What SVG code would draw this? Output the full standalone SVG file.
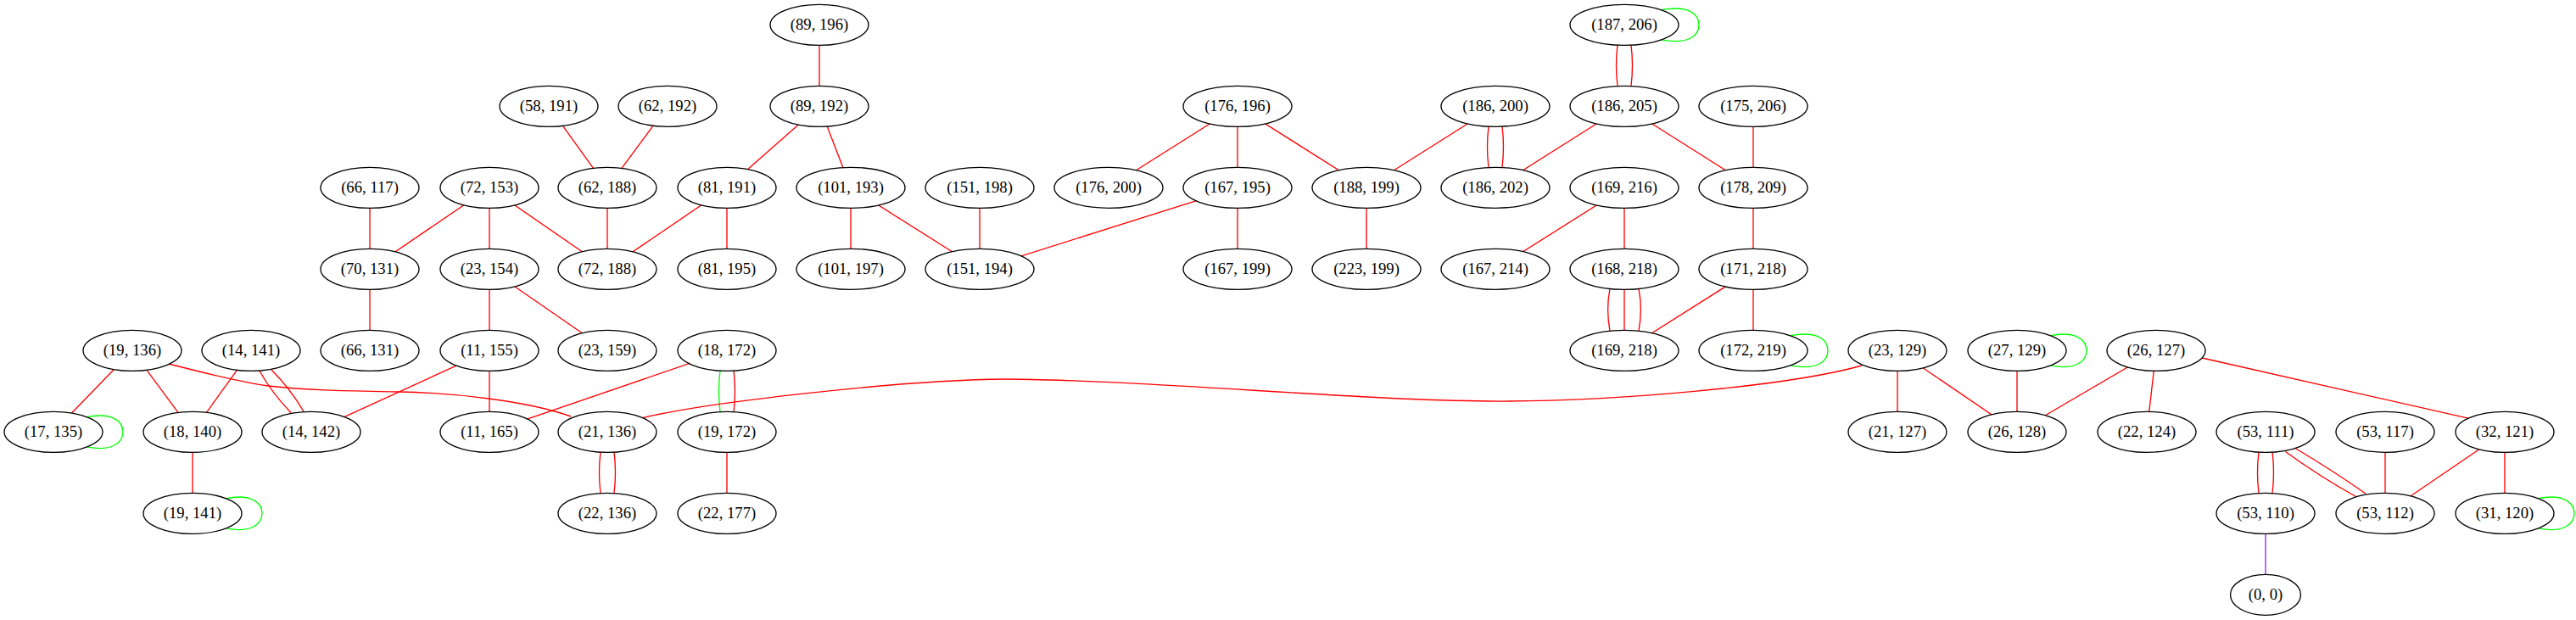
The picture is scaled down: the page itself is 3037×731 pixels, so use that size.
<svg xmlns="http://www.w3.org/2000/svg" width="3037" height="731" viewBox="0 0 3037 731">
<style>
.node ellipse{fill:#ffffff;stroke:#000000;stroke-width:1.33}
.node text{font-family:"Liberation Serif","Times New Roman",serif;font-size:18.67px;text-anchor:middle;fill:#000000}
#edges line,#edges path{fill:none;stroke:#ff0000;stroke-width:1.33}
#edges .g{stroke:#00ff00}
#edges .p{stroke:#a020f0}
</style>
<rect width="3037" height="731" fill="#ffffff"/>
<g id="edges">
<line x1="966" y1="29.3" x2="966" y2="125.3"/>
<line x1="647" y1="125.3" x2="716" y2="221.3"/>
<line x1="787" y1="125.3" x2="716" y2="221.3"/>
<line x1="966" y1="125.3" x2="857" y2="221.3"/>
<line x1="966" y1="125.3" x2="1003" y2="221.3"/>
<line x1="436" y1="221.3" x2="436" y2="317.3"/>
<line x1="577" y1="221.3" x2="436" y2="317.3"/>
<line x1="577" y1="221.3" x2="577" y2="317.3"/>
<line x1="577" y1="221.3" x2="716" y2="317.3"/>
<line x1="716" y1="221.3" x2="716" y2="317.3"/>
<line x1="857" y1="221.3" x2="716" y2="317.3"/>
<line x1="857" y1="221.3" x2="857" y2="317.3"/>
<line x1="1003" y1="221.3" x2="1003" y2="317.3"/>
<line x1="1003" y1="221.3" x2="1155" y2="317.3"/>
<line x1="1155" y1="221.3" x2="1155" y2="317.3"/>
<line x1="1459" y1="221.3" x2="1155" y2="317.3"/>
<line x1="1459" y1="125.3" x2="1307" y2="221.3"/>
<line x1="1459" y1="125.3" x2="1459" y2="221.3"/>
<line x1="1459" y1="125.3" x2="1611" y2="221.3"/>
<line x1="1459" y1="221.3" x2="1459" y2="317.3"/>
<line x1="1763" y1="125.3" x2="1611" y2="221.3"/>
<line x1="1915" y1="125.3" x2="1763" y2="221.3"/>
<line x1="1915" y1="125.3" x2="2067" y2="221.3"/>
<line x1="2067" y1="125.3" x2="2067" y2="221.3"/>
<line x1="1611" y1="221.3" x2="1611" y2="317.3"/>
<line x1="1915" y1="221.3" x2="1763" y2="317.3"/>
<line x1="1915" y1="221.3" x2="1915" y2="317.3"/>
<line x1="2067" y1="221.3" x2="2067" y2="317.3"/>
<line x1="2067" y1="317.3" x2="1915" y2="413.3"/>
<line x1="2067" y1="317.3" x2="2067" y2="413.3"/>
<line x1="436" y1="317.3" x2="436" y2="413.3"/>
<line x1="577" y1="317.3" x2="577" y2="413.3"/>
<line x1="577" y1="317.3" x2="716" y2="413.3"/>
<line x1="156" y1="413.3" x2="63" y2="509.3"/>
<line x1="156" y1="413.3" x2="227" y2="509.3"/>
<line x1="296" y1="413.3" x2="227" y2="509.3"/>
<line x1="577" y1="413.3" x2="367" y2="509.3"/>
<line x1="577" y1="413.3" x2="577" y2="509.3"/>
<line x1="857" y1="413.3" x2="577" y2="509.3"/>
<line x1="227" y1="509.3" x2="227" y2="605.3"/>
<line x1="857" y1="509.3" x2="857" y2="605.3"/>
<line x1="2237" y1="413.3" x2="2237" y2="509.3"/>
<line x1="2237" y1="413.3" x2="2378" y2="509.3"/>
<line x1="2378" y1="413.3" x2="2378" y2="509.3"/>
<line x1="2542" y1="413.3" x2="2378" y2="509.3"/>
<line x1="2542" y1="413.3" x2="2531" y2="509.3"/>
<path d="M2596,422 L2910,493.2"/>
<line x1="2812" y1="509.3" x2="2812" y2="605.3"/>
<line x1="2953" y1="509.3" x2="2812" y2="605.3"/>
<line x1="2953" y1="509.3" x2="2953" y2="605.3"/>
<line class="p" x1="2671" y1="605.3" x2="2671" y2="701.3"/>
<!-- multi edges -->
<path d="M1907,53.1 C1905,69 1905,85 1907,101.5"/>
<path d="M1923,53.1 C1925,69 1925,85 1923,101.5"/>
<path d="M1755,149.1 C1753,165 1753,181 1755,197.5"/>
<path d="M1771,149.1 C1773,165 1773,181 1771,197.5"/>
<path d="M1898,340.4 C1895,356 1895,374 1898,390.2"/>
<path d="M1915,341.3 L1915,389.3"/>
<path d="M1932,340.4 C1935,356 1935,374 1932,390.2"/>
<path class="g" d="M849,437.1 C847,453 847,469 849,485.5"/>
<path d="M865,437.1 C867,453 867,469 865,485.5"/>
<path d="M305.5,436.5 Q321,464 343,486.5"/>
<path d="M320,436 Q342.6,458.6 358.5,486"/>
<path d="M708,533.1 C706,549 706,565 708,581.5"/>
<path d="M724,533.1 C726,549 726,565 724,581.5"/>
<path d="M2663,533.1 C2661,549 2661,565 2663,581.5"/>
<path d="M2679,533.1 C2681,549 2681,565 2679,581.5"/>
<path d="M2694.5,532.5 Q2735,562 2778.5,586"/>
<path d="M2706,528.5 Q2749,554 2789,582"/>
<!-- long curves -->
<path d="M199,429 C230,437 280,450 316,455 C370,461 420,461 470,462 C530,463 620,472 673,491"/>
<path d="M2195,431 C2110,455 1900,474 1756,473 C1600,472 1350,448 1186,447 C1060,448 830,475 758,492.5"/>
<!-- self loops -->
<path class="g" d="M1958.5,11.7 C1990,6 2003,16 2003,29.3 C2003,42.6 1990,52.6 1958.5,46.9"/>
<path class="g" d="M2110.5,395.7 C2142,390 2155,400 2155,413.3 C2155,426.6 2142,436.6 2110.5,430.9"/>
<path class="g" d="M102.4,491.7 C131,486 145,496 145,509.3 C145,522.6 131,532.6 102.4,526.9"/>
<path class="g" d="M266.4,587.7 C295,582 309,592 309,605.3 C309,618.6 295,628.6 266.4,622.9"/>
<path class="g" d="M2417.4,395.7 C2446,390 2460,400 2460,413.3 C2460,426.6 2446,436.6 2417.4,430.9"/>
<path class="g" d="M2992.4,587.7 C3021,582 3035,592 3035,605.3 C3035,618.6 3021,628.6 2992.4,622.9"/>
</g>
<g id="n89_196" class="node"><ellipse cx="966" cy="29.3" rx="58" ry="24"/><text x="966" y="35.3">(89, 196)</text></g>
<g id="n187_206" class="node"><ellipse cx="1915" cy="29.3" rx="64" ry="24"/><text x="1915" y="35.3">(187, 206)</text></g>
<g id="n58_191" class="node"><ellipse cx="647" cy="125.3" rx="58" ry="24"/><text x="647" y="131.3">(58, 191)</text></g>
<g id="n62_192" class="node"><ellipse cx="787" cy="125.3" rx="58" ry="24"/><text x="787" y="131.3">(62, 192)</text></g>
<g id="n89_192" class="node"><ellipse cx="966" cy="125.3" rx="58" ry="24"/><text x="966" y="131.3">(89, 192)</text></g>
<g id="n176_196" class="node"><ellipse cx="1459" cy="125.3" rx="64" ry="24"/><text x="1459" y="131.3">(176, 196)</text></g>
<g id="n186_200" class="node"><ellipse cx="1763" cy="125.3" rx="64" ry="24"/><text x="1763" y="131.3">(186, 200)</text></g>
<g id="n186_205" class="node"><ellipse cx="1915" cy="125.3" rx="64" ry="24"/><text x="1915" y="131.3">(186, 205)</text></g>
<g id="n175_206" class="node"><ellipse cx="2067" cy="125.3" rx="64" ry="24"/><text x="2067" y="131.3">(175, 206)</text></g>
<g id="n66_117" class="node"><ellipse cx="436" cy="221.3" rx="58" ry="24"/><text x="436" y="227.3">(66, 117)</text></g>
<g id="n72_153" class="node"><ellipse cx="577" cy="221.3" rx="58" ry="24"/><text x="577" y="227.3">(72, 153)</text></g>
<g id="n62_188" class="node"><ellipse cx="716" cy="221.3" rx="58" ry="24"/><text x="716" y="227.3">(62, 188)</text></g>
<g id="n81_191" class="node"><ellipse cx="857" cy="221.3" rx="58" ry="24"/><text x="857" y="227.3">(81, 191)</text></g>
<g id="n101_193" class="node"><ellipse cx="1003" cy="221.3" rx="64" ry="24"/><text x="1003" y="227.3">(101, 193)</text></g>
<g id="n151_198" class="node"><ellipse cx="1155" cy="221.3" rx="64" ry="24"/><text x="1155" y="227.3">(151, 198)</text></g>
<g id="n176_200" class="node"><ellipse cx="1307" cy="221.3" rx="64" ry="24"/><text x="1307" y="227.3">(176, 200)</text></g>
<g id="n167_195" class="node"><ellipse cx="1459" cy="221.3" rx="64" ry="24"/><text x="1459" y="227.3">(167, 195)</text></g>
<g id="n188_199" class="node"><ellipse cx="1611" cy="221.3" rx="64" ry="24"/><text x="1611" y="227.3">(188, 199)</text></g>
<g id="n186_202" class="node"><ellipse cx="1763" cy="221.3" rx="64" ry="24"/><text x="1763" y="227.3">(186, 202)</text></g>
<g id="n169_216" class="node"><ellipse cx="1915" cy="221.3" rx="64" ry="24"/><text x="1915" y="227.3">(169, 216)</text></g>
<g id="n178_209" class="node"><ellipse cx="2067" cy="221.3" rx="64" ry="24"/><text x="2067" y="227.3">(178, 209)</text></g>
<g id="n70_131" class="node"><ellipse cx="436" cy="317.3" rx="58" ry="24"/><text x="436" y="323.3">(70, 131)</text></g>
<g id="n23_154" class="node"><ellipse cx="577" cy="317.3" rx="58" ry="24"/><text x="577" y="323.3">(23, 154)</text></g>
<g id="n72_188" class="node"><ellipse cx="716" cy="317.3" rx="58" ry="24"/><text x="716" y="323.3">(72, 188)</text></g>
<g id="n81_195" class="node"><ellipse cx="857" cy="317.3" rx="58" ry="24"/><text x="857" y="323.3">(81, 195)</text></g>
<g id="n101_197" class="node"><ellipse cx="1003" cy="317.3" rx="64" ry="24"/><text x="1003" y="323.3">(101, 197)</text></g>
<g id="n151_194" class="node"><ellipse cx="1155" cy="317.3" rx="64" ry="24"/><text x="1155" y="323.3">(151, 194)</text></g>
<g id="n167_199" class="node"><ellipse cx="1459" cy="317.3" rx="64" ry="24"/><text x="1459" y="323.3">(167, 199)</text></g>
<g id="n223_199" class="node"><ellipse cx="1611" cy="317.3" rx="64" ry="24"/><text x="1611" y="323.3">(223, 199)</text></g>
<g id="n167_214" class="node"><ellipse cx="1763" cy="317.3" rx="64" ry="24"/><text x="1763" y="323.3">(167, 214)</text></g>
<g id="n168_218" class="node"><ellipse cx="1915" cy="317.3" rx="64" ry="24"/><text x="1915" y="323.3">(168, 218)</text></g>
<g id="n171_218" class="node"><ellipse cx="2067" cy="317.3" rx="64" ry="24"/><text x="2067" y="323.3">(171, 218)</text></g>
<g id="n19_136" class="node"><ellipse cx="156" cy="413.3" rx="58" ry="24"/><text x="156" y="419.3">(19, 136)</text></g>
<g id="n14_141" class="node"><ellipse cx="296" cy="413.3" rx="58" ry="24"/><text x="296" y="419.3">(14, 141)</text></g>
<g id="n66_131" class="node"><ellipse cx="436" cy="413.3" rx="58" ry="24"/><text x="436" y="419.3">(66, 131)</text></g>
<g id="n11_155" class="node"><ellipse cx="577" cy="413.3" rx="58" ry="24"/><text x="577" y="419.3">(11, 155)</text></g>
<g id="n23_159" class="node"><ellipse cx="716" cy="413.3" rx="58" ry="24"/><text x="716" y="419.3">(23, 159)</text></g>
<g id="n18_172" class="node"><ellipse cx="857" cy="413.3" rx="58" ry="24"/><text x="857" y="419.3">(18, 172)</text></g>
<g id="n169_218" class="node"><ellipse cx="1915" cy="413.3" rx="64" ry="24"/><text x="1915" y="419.3">(169, 218)</text></g>
<g id="n172_219" class="node"><ellipse cx="2067" cy="413.3" rx="64" ry="24"/><text x="2067" y="419.3">(172, 219)</text></g>
<g id="n23_129" class="node"><ellipse cx="2237" cy="413.3" rx="58" ry="24"/><text x="2237" y="419.3">(23, 129)</text></g>
<g id="n27_129" class="node"><ellipse cx="2378" cy="413.3" rx="58" ry="24"/><text x="2378" y="419.3">(27, 129)</text></g>
<g id="n26_127" class="node"><ellipse cx="2542" cy="413.3" rx="58" ry="24"/><text x="2542" y="419.3">(26, 127)</text></g>
<g id="n17_135" class="node"><ellipse cx="63" cy="509.3" rx="58" ry="24"/><text x="63" y="515.3">(17, 135)</text></g>
<g id="n18_140" class="node"><ellipse cx="227" cy="509.3" rx="58" ry="24"/><text x="227" y="515.3">(18, 140)</text></g>
<g id="n14_142" class="node"><ellipse cx="367" cy="509.3" rx="58" ry="24"/><text x="367" y="515.3">(14, 142)</text></g>
<g id="n11_165" class="node"><ellipse cx="577" cy="509.3" rx="58" ry="24"/><text x="577" y="515.3">(11, 165)</text></g>
<g id="n21_136" class="node"><ellipse cx="716" cy="509.3" rx="58" ry="24"/><text x="716" y="515.3">(21, 136)</text></g>
<g id="n19_172" class="node"><ellipse cx="857" cy="509.3" rx="58" ry="24"/><text x="857" y="515.3">(19, 172)</text></g>
<g id="n21_127" class="node"><ellipse cx="2237" cy="509.3" rx="58" ry="24"/><text x="2237" y="515.3">(21, 127)</text></g>
<g id="n26_128" class="node"><ellipse cx="2378" cy="509.3" rx="58" ry="24"/><text x="2378" y="515.3">(26, 128)</text></g>
<g id="n22_124" class="node"><ellipse cx="2531" cy="509.3" rx="58" ry="24"/><text x="2531" y="515.3">(22, 124)</text></g>
<g id="n53_111" class="node"><ellipse cx="2671" cy="509.3" rx="58" ry="24"/><text x="2671" y="515.3">(53, 111)</text></g>
<g id="n53_117" class="node"><ellipse cx="2812" cy="509.3" rx="58" ry="24"/><text x="2812" y="515.3">(53, 117)</text></g>
<g id="n32_121" class="node"><ellipse cx="2953" cy="509.3" rx="58" ry="24"/><text x="2953" y="515.3">(32, 121)</text></g>
<g id="n19_141" class="node"><ellipse cx="227" cy="605.3" rx="58" ry="24"/><text x="227" y="611.3">(19, 141)</text></g>
<g id="n22_136" class="node"><ellipse cx="716" cy="605.3" rx="58" ry="24"/><text x="716" y="611.3">(22, 136)</text></g>
<g id="n22_177" class="node"><ellipse cx="857" cy="605.3" rx="58" ry="24"/><text x="857" y="611.3">(22, 177)</text></g>
<g id="n53_110" class="node"><ellipse cx="2671" cy="605.3" rx="58" ry="24"/><text x="2671" y="611.3">(53, 110)</text></g>
<g id="n53_112" class="node"><ellipse cx="2812" cy="605.3" rx="58" ry="24"/><text x="2812" y="611.3">(53, 112)</text></g>
<g id="n31_120" class="node"><ellipse cx="2953" cy="605.3" rx="58" ry="24"/><text x="2953" y="611.3">(31, 120)</text></g>
<g id="n0_0" class="node"><ellipse cx="2671" cy="701.3" rx="41.5" ry="24"/><text x="2671" y="707.3">(0, 0)</text></g>
</svg>
